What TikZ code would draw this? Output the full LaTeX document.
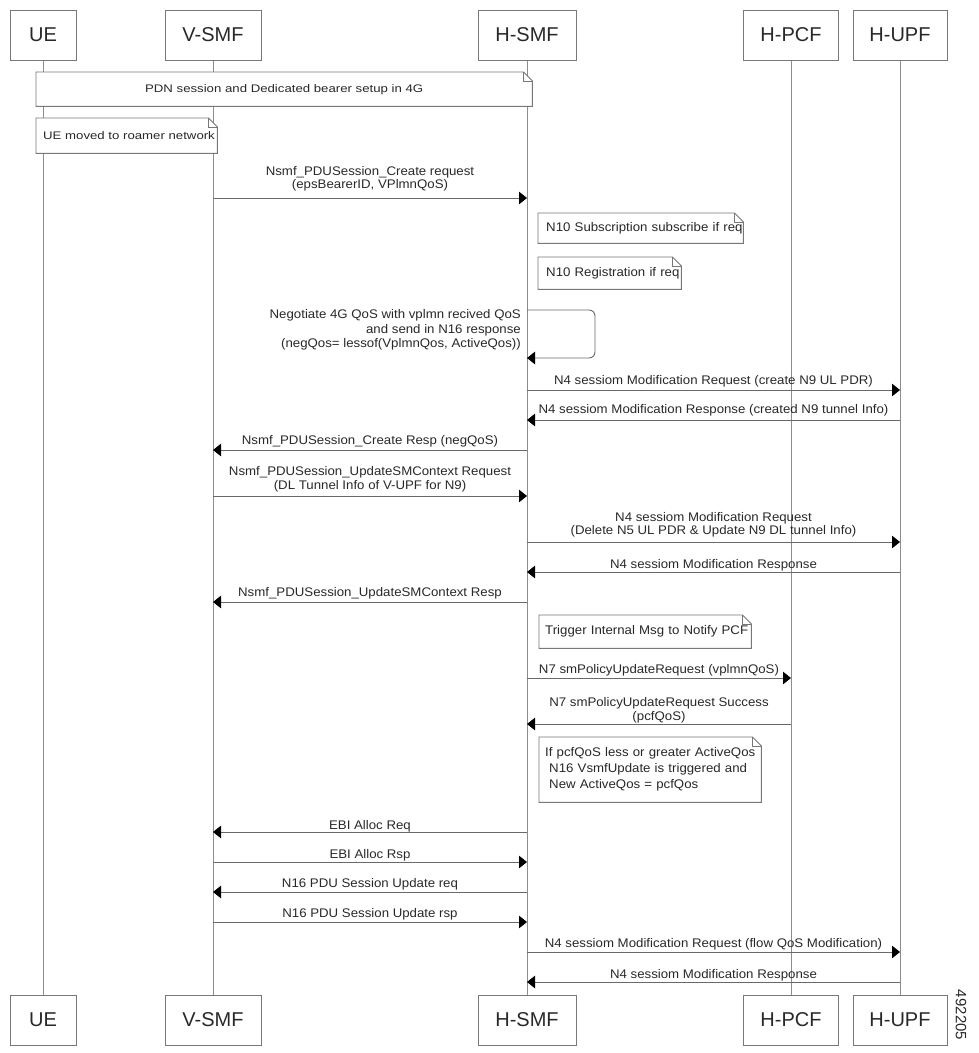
\documentclass[tikz,border=0pt]{standalone}
\usepackage{fontspec}
\setmainfont{Liberation Sans}
\newfontfamily\notefont{Liberation Sans}[FakeStretch=1.2]
\newfontfamily\lblfont{Liberation Sans}[FakeStretch=1.06]
\usetikzlibrary{arrows.meta}
\definecolor{lifegray}{RGB}{140,140,140}
\definecolor{boxgray}{RGB}{120,120,120}
\definecolor{msggray}{RGB}{105,105,105}
\definecolor{txt}{RGB}{40,40,40}
\tikzset{
  actor/.style={draw=boxgray, line width=1pt, minimum height=50, inner sep=0, font=\fontsize{20}{22}\selectfont, text=txt},
  life/.style={draw=lifegray, line width=0.9pt},
  msg/.style={draw=msggray, line width=0.9pt, -{Triangle[length=8pt,width=12.5pt,color=black]}},
  lbl/.style={font=\lblfont\fontsize{12.5}{13.5}\selectfont, align=center, inner sep=0, text=txt},
  notebase/.style={anchor=north west, inner ysep=0, inner xsep=7, text=txt, font=\lblfont\fontsize{12.5}{16}\selectfont,
    append after command={\pgfextra{\draw[boxgray, line width=0.9pt, fill=white]
      (\tikzlastnode.north west) -- ([xshift=-9pt]\tikzlastnode.north east) -- ([yshift=-9pt]\tikzlastnode.north east) -- (\tikzlastnode.south east) -- (\tikzlastnode.south west) -- cycle;
      \draw[boxgray, line width=0.9pt] ([xshift=-9pt]\tikzlastnode.north east) |- ([yshift=-9pt]\tikzlastnode.north east);}}},
}
\def\xUE{43}\def\xVS{213}\def\xHS{527}\def\xPCF{791}\def\xUPF{900}
\newcommand\seqmsg[6]{%
  \coordinate (#1s) at (#2,#4);
  \coordinate (#1e) at (#3,#4);
  \draw[msg] (#1s) -- (#1e) node[lbl, midway, anchor=south, yshift={(#5-4.05)*1pt}] (#1l) {#6\strut};
}
\begin{document}
\begin{tikzpicture}[x=1pt,y=-1pt]
\useasboundingbox (0,0) rectangle (978,1053);
% actors
\node[actor, minimum width=66] (tUE) at (\xUE,35) {UE};
\node[actor, minimum width=96] (tVS) at (\xVS,35) {V-SMF};
\node[actor, minimum width=98] (tHS) at (\xHS,35) {H-SMF};
\node[actor, minimum width=95] (tPCF) at (\xPCF,35) {H-PCF};
\node[actor, minimum width=94] (tUPF) at (\xUPF,35) {H-UPF};
\node[actor, minimum width=66] (bUE) at (\xUE,1020) {UE};
\node[actor, minimum width=96] (bVS) at (\xVS,1020) {V-SMF};
\node[actor, minimum width=98] (bHS) at (\xHS,1020) {H-SMF};
\node[actor, minimum width=95] (bPCF) at (\xPCF,1020) {H-PCF};
\node[actor, minimum width=94] (bUPF) at (\xUPF,1020) {H-UPF};
% lifelines
\draw[life] (tUE) -- (bUE);
\draw[life] (tVS) -- (bVS);
\draw[life] (tHS) -- (bHS);
\draw[life] (tPCF) -- (bPCF);
\draw[life] (tUPF) -- (bUPF);
% notes
\node[notebase, font=\notefont\fontsize{11}{13}\selectfont, text width=482, align=center, minimum height=34] (n1) at (36,72) {PDN session and Dedicated bearer setup in 4G};
\node[notebase, font=\notefont\fontsize{11}{13}\selectfont, inner xsep=7, text width=167, align=left, minimum height=35] (n2) at (36,118) {\mbox{UE moved to roamer network}};
\node[notebase, inner xsep=8, text width=189, align=left, minimum height=30] (n3) at (538,213) {\mbox{N10 Subscription subscribe if req}};
\node[notebase, inner xsep=8, text width=127, align=left, minimum height=32] (n4) at (538,257) {\mbox{N10 Registration if req}};
\node[notebase, inner xsep=6, text width=200, align=left, minimum height=33] (n5) at (539,615) {\mbox{Trigger Internal Msg to Notify PCF}};
\node[notebase, inner xsep=6, text width=210, align=left, minimum height=65] (n6) at (539,737) {\mbox{If pcfQoS less or greater ActiveQos}\\\mbox{\hspace*{4pt}N16 VsmfUpdate is triggered and}\\\mbox{\hspace*{4pt}New ActiveQos = pcfQos}};
% messages
\seqmsg{m1}{\xVS}{\xHS}{198}{9}{Nsmf\_PDUSession\_Create request\\(epsBearerID, VPlmnQoS)}
% self loop
\coordinate (loopS) at (\xHS,310);
\coordinate (loopE) at (\xHS,358);
\draw[msg, rounded corners=6pt] (loopS) -- ++(68,0) -- ++(0,48) -- (loopE);
\node[lbl, align=right, anchor=east, font=\lblfont\fontsize{12.5}{14.5}\selectfont] (loopl) at (521,330) {Negotiate 4G QoS with vplmn recived QoS\\and send in N16 response\\(negQos= lessof(VplmnQos, ActiveQos))};
\seqmsg{m2}{\xHS}{\xUPF}{390}{5}{N4 sessiom Modification Request (create N9 UL PDR)}
\seqmsg{m3}{\xUPF}{\xHS}{420}{6}{N4 sessiom Modification Response (created N9 tunnel Info)}
\seqmsg{m4}{\xHS}{\xVS}{450}{5}{Nsmf\_PDUSession\_Create Resp (negQoS)}
\seqmsg{m5}{\xVS}{\xHS}{496}{6.5}{Nsmf\_PDUSession\_UpdateSMContext Request\\(DL Tunnel Info of V-UPF for N9)}
\seqmsg{m6}{\xHS}{\xUPF}{542}{7}{N4 sessiom Modification Request\\(Delete N5 UL PDR \& Update N9 DL tunnel Info)}
\seqmsg{m7}{\xUPF}{\xHS}{572}{3.5}{N4 sessiom Modification Response}
\seqmsg{m8}{\xHS}{\xVS}{602}{5}{Nsmf\_PDUSession\_UpdateSMContext Resp}
\seqmsg{m9}{\xHS}{\xPCF}{678}{4}{N7 smPolicyUpdateRequest (vplmnQoS)}
\seqmsg{m10}{\xPCF}{\xHS}{724}{3.5}{N7 smPolicyUpdateRequest Success\\(pcfQoS)}
\seqmsg{m11}{\xHS}{\xVS}{832}{2.5}{EBI Alloc Req}
\seqmsg{m12}{\xVS}{\xHS}{862}{3.5}{EBI Alloc Rsp}
\seqmsg{m13}{\xHS}{\xVS}{892}{4.5}{N16 PDU Session Update req}
\seqmsg{m14}{\xVS}{\xHS}{922}{4}{N16 PDU Session Update rsp}
\seqmsg{m15}{\xHS}{\xUPF}{952}{4}{N4 sessiom Modification Request (flow QoS Modification)}
\seqmsg{m16}{\xUPF}{\xHS}{982}{3}{N4 sessiom Modification Response}
% figure id
\node[rotate=-90, font=\fontsize{15}{15}\selectfont, text=txt, inner sep=0] (fid) at (961,1015) {492205};
\end{tikzpicture}
\end{document}
